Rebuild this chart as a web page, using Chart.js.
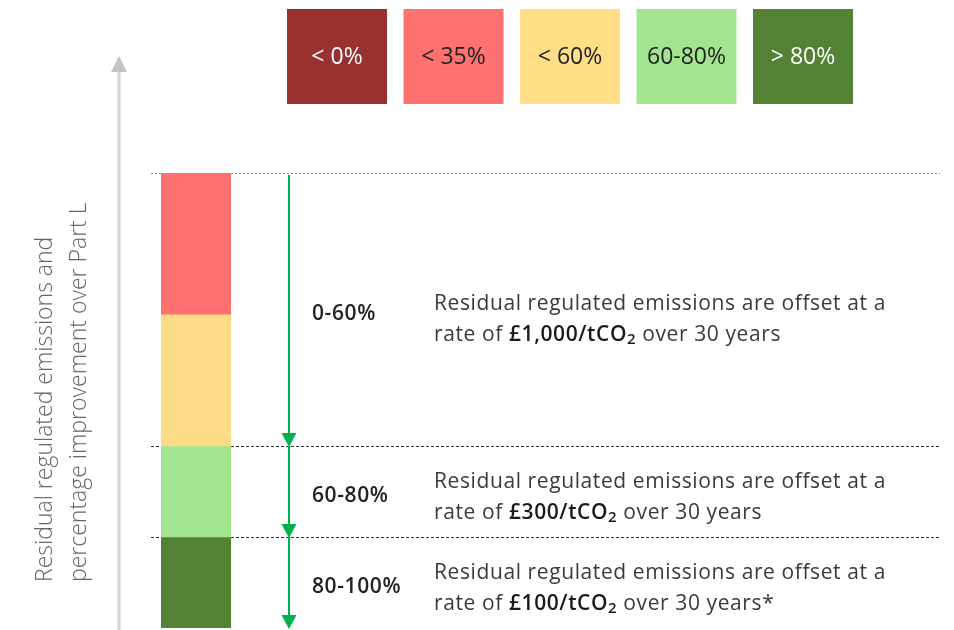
<!DOCTYPE html>
<html>
<head>
<meta charset="utf-8">
<script src="https://cdn.jsdelivr.net/npm/chart.js@4.4.1/dist/chart.umd.min.js"></script>
<style>
  body { margin: 0; background: #fff; }
</style>
</head>
<body>
<canvas id="chartOffset" width="954" height="630"></canvas>
<script>
/* Offset rates by improvement over Part L */
const legendLabels = ['< 0%', '< 35%', '< 60%', '60-80%', '> 80%'];
const legendColors = ['#993131', '#FF7070', '#FFDE87', '#A3E491', '#548235'];
const legendTextColors = ['#ffffff', '#222222', '#222222', '#222222', '#ffffff'];

const bandNames = ['< 35%', '< 60%', '60-80%', '> 80%'];
const bandValues = [31, 29, 20, 20];
const bandColors = ['#FF7070', '#FCDB86', '#A3E491', '#548235'];

const dividerValues = [0, 60, 80];

const rangeLabels = ['0-60%', '60-80%', '80-100%'];
const rangeFrom = [0, 60, 80];
const rangeTo = [60, 80, 100];
const ratePrices = ['£1,000', '£300', '£100'];
const rateNotes = ['', '', '*'];

const axisTitle = ['Residual regulated emissions and', 'percentage improvement over Part L'];

const FONT = '"Open Sans", Lato, sans-serif';

/* dibuja las partes del diagrama alrededor de la barra */
const diagramPlugin = {
  id: 'diagram',
  beforeDatasetsDraw(chart) {
    const ctx = chart.ctx;
    const y = chart.scales.y;
    ctx.save();
    dividerValues.forEach((v, i) => {
      let py = Math.round(y.getPixelForValue(v)) + 0.5;
      ctx.strokeStyle = i === 0 ? '#8c8c8c' : '#333333';
      ctx.setLineDash(i === 0 ? [2, 2] : [3, 2]);
      ctx.lineWidth = 1;
      ctx.beginPath();
      ctx.moveTo(151, py);
      ctx.lineTo(940, py);
      ctx.stroke();
    });
    ctx.restore();
  },
  afterDatasetsDraw(chart) {
    const ctx = chart.ctx;
    const y = chart.scales.y;
    ctx.save();

    /* Leyenda de arriba */
    for (i = 0; i < legendLabels.length; i++) {
      let bx = 287 + i * 116.5;
      ctx.fillStyle = legendColors[i];
      ctx.fillRect(bx, 9, 100, 95);
      ctx.fillStyle = legendTextColors[i];
      ctx.font = '23px ' + FONT;
      ctx.textAlign = 'center';
      ctx.textBaseline = 'middle';
      ctx.fillText(legendLabels[i], bx + 50, 57);
    }

    /* Flecha gris del eje */
    ctx.strokeStyle = '#d4d4d4';
    ctx.lineWidth = 3;
    ctx.beginPath();
    ctx.moveTo(119, 70);
    ctx.lineTo(119, 630);
    ctx.stroke();
    ctx.fillStyle = '#c4c4c4';
    ctx.beginPath();
    ctx.moveTo(119, 56);
    ctx.lineTo(127, 72);
    ctx.lineTo(111, 72);
    ctx.closePath();
    ctx.fill();

    /* Titulo del eje */
    ctx.save();
    ctx.translate(0, 582);
    ctx.rotate(-Math.PI / 2);
    ctx.fillStyle = '#666666';
    ctx.font = '300 23px ' + FONT;
    ctx.textAlign = 'left';
    ctx.textBaseline = 'middle';
    ctx.fillText(axisTitle[0], 0, 45);
    ctx.fillText(axisTitle[1], 0, 79);
    ctx.restore();

    /* Flechas verdes y textos */
    for (i = 0; i < rangeLabels.length; i++) {
      let top = y.getPixelForValue(rangeFrom[i]) + (i === 0 ? 2 : 0);
      let tip = y.getPixelForValue(rangeTo[i]) + 1;
      ctx.strokeStyle = '#00B050';
      ctx.fillStyle = '#00B050';
      ctx.lineWidth = 2;
      ctx.beginPath();
      ctx.moveTo(289, top);
      ctx.lineTo(289, tip - 10);
      ctx.stroke();
      ctx.beginPath();
      ctx.moveTo(289, tip);
      ctx.lineTo(296.5, tip - 14);
      ctx.lineTo(281.5, tip - 14);
      ctx.closePath();
      ctx.fill();

      let mid = y.getPixelForValue((rangeFrom[i] + rangeTo[i]) / 2) + 5;
      ctx.fillStyle = '#222222';
      ctx.font = '600 21px ' + FONT;
      ctx.letterSpacing = '0.6px';
      ctx.textAlign = 'left';
      ctx.textBaseline = 'middle';
      ctx.fillText(rangeLabels[i], 312, mid);

      let l1 = mid - (i === 0 ? 10 : 14);
      let l2 = l1 + 31;
      ctx.letterSpacing = '0.6px';
      ctx.fillStyle = '#3a3a3a';
      ctx.font = '21px ' + FONT;
      ctx.fillText('Residual regulated emissions are offset at a', 434, l1);
      let px = 434;
      ctx.fillText('rate of ', px, l2);
      px += ctx.measureText('rate of ').width;
      ctx.fillStyle = '#1a1a1a';
      ctx.font = '600 21px ' + FONT;
      let price = ratePrices[i] + '/tCO';
      ctx.fillText(price, px, l2);
      px += ctx.measureText(price).width;
      ctx.font = '600 15px ' + FONT;
      ctx.fillText('2', px, l2 + 4);
      px += ctx.measureText('2').width;
      ctx.fillStyle = '#3a3a3a';
      ctx.font = '21px ' + FONT;
      ctx.fillText(' over 30 years' + rateNotes[i], px, l2);
      ctx.letterSpacing = '0px';
    }
    ctx.restore();
  },
};

let datasets = [];
for (i = 0; i < bandValues.length; i++) {
  datasets.push({
    label: bandNames[i],
    data: [bandValues[i]],
    backgroundColor: bandColors[i],
    borderWidth: 0,
    barPercentage: 1,
    categoryPercentage: 1,
  });
}

ctx = document.getElementById('chartOffset').getContext('2d');
myChart = new Chart(ctx, {
  type: 'bar',
  plugins: [diagramPlugin],
  data: {
    labels: ['Improvement'],
    datasets: datasets,
  },
  options: {
    responsive: false,
    animation: false,
    layout: {
      padding: { top: 173, bottom: 2, left: 161, right: 723 },
    },
    scales: {
      x: { stacked: true, display: false },
      y: { stacked: true, display: false, reverse: true, min: 0, max: 100 },
    },
    plugins: {
      legend: { display: false },
      tooltip: { enabled: false },
    },
  },
});
</script>
</body>
</html>
